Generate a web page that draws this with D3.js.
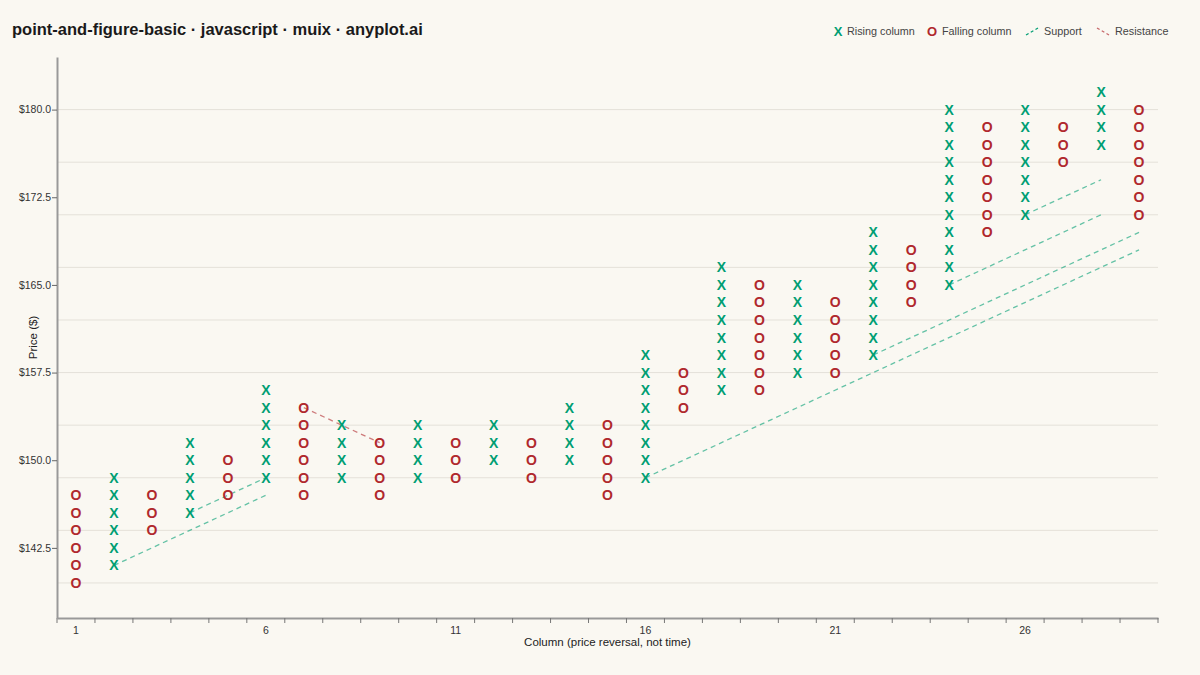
<!DOCTYPE html>
<html>
<head>
<meta charset="utf-8">
<script src="https://cdn.jsdelivr.net/npm/d3@7"></script>
<style>
  html, body { margin: 0; padding: 0; background: #faf8f2; }
  svg { display: block; font-family: "Liberation Sans", Arial, sans-serif; }
</style>
</head>
<body>
<svg id="chart"></svg>
<script>
// point & figure columns: type, lowest box, highest box
const columnType = ["O", "X", "O", "X", "O", "X", "O", "X", "O", "X",
                    "O", "X", "O", "X", "O", "X", "O", "X", "O", "X",
                    "O", "X", "O", "X", "O", "X", "O", "X", "O"];
const columnLow = [139.5, 141, 144, 145.5, 147, 148.5, 147, 148.5, 147, 148.5,
                   148.5, 150, 148.5, 150, 147, 148.5, 154.5, 156, 156, 157.5,
                   157.5, 159, 163.5, 165, 169.5, 171, 175.5, 177, 171];
const columnHigh = [147, 148.5, 147, 151.5, 150, 156, 154.5, 153, 151.5, 153,
                    151.5, 153, 151.5, 154.5, 153, 159, 157.5, 166.5, 165, 165,
                    163.5, 169.5, 168, 180, 178.5, 180, 178.5, 181.5, 180];
const boxSize = 1.5;

// trend lines: [start column, start price, end column, end price]
const supportLines = [
  [2, 141, 6, 147],
  [4, 145.5, 6, 148.5],
  [16, 148.5, 29, 168],
  [22, 159, 29, 169.5],
  [24, 165, 28, 171],
  [26, 171, 28, 174]
];
const resistanceLines = [
  [7, 154.5, 9, 151.5]
];

const yDomain = [136.5, 184.5];
const yTickValues = [142.5, 150, 157.5, 165, 172.5, 180];
const gridValues = [139.5, 144, 148.5, 153, 157.5, 162, 166.5, 171, 175.5, 180];
const xLabelColumns = [1, 6, 11, 16, 21, 26];

const width = 1200, height = 675;
const margin = { top: 57, right: 42, bottom: 57, left: 57 };
const innerWidth = width - margin.left - margin.right;
const innerHeight = height - margin.top - margin.bottom;

const green = "#009e73", red = "#b0282d";

const columns = columnType.map((t, i) => i + 1);
const boxes = [];
columnType.forEach((t, i) => {
  const n = Math.round((columnHigh[i] - columnLow[i]) / boxSize);
  for (let k = 0; k <= n; k++) {
    boxes.push({ col: i + 1, type: t, price: columnLow[i] + k * boxSize });
  }
});

const svg = d3.select("#chart").attr("width", width).attr("height", height);

svg.append("text")
  .attr("x", 12).attr("y", 35)
  .attr("font-size", 16.5).attr("font-weight", "bold").attr("fill", "#1a1a1a")
  .text("point-and-figure-basic · javascript · muix · anyplot.ai");

const chart = svg.append("g").attr("transform", `translate(${margin.left},${margin.top})`);

const xScale = d3.scaleBand().domain(columns).range([0, innerWidth]);
const yScale = d3.scaleLinear().domain(yDomain).range([innerHeight, 0]);
const xc = (c) => xScale(c) + xScale.bandwidth() / 2;

// grid
chart.selectAll(".grid")
  .data(gridValues)
  .join("line")
  .classed("grid", true)
  .attr("x1", 0).attr("x2", innerWidth)
  .attr("y1", (d) => yScale(d)).attr("y2", (d) => yScale(d))
  .attr("stroke", "#e4e1d9").attr("stroke-width", 1);

// axes
const xAxis = d3.axisBottom(xScale)
  .tickValues(xLabelColumns)
  .tickSizeOuter(0).tickSize(0);
const gx = chart.append("g")
  .attr("transform", `translate(0,${innerHeight})`)
  .call(xAxis);
gx.select(".domain").attr("stroke", "#999").attr("stroke-width", 2);
gx.selectAll(".tick text").attr("font-size", 10.5).attr("fill", "#333").attr("dy", "1.25em");
// band-edge tick marks
gx.selectAll(".edge")
  .data(columns.concat([columns.length + 1]))
  .join("line")
  .classed("edge", true)
  .attr("x1", (d) => (d <= columns.length ? xScale(d) : innerWidth))
  .attr("x2", (d) => (d <= columns.length ? xScale(d) : innerWidth))
  .attr("y1", 0).attr("y2", 5)
  .attr("stroke", "#777").attr("stroke-width", 1);

const yAxis = d3.axisLeft(yScale)
  .tickValues(yTickValues).tickSize(5).tickSizeOuter(0).tickPadding(1)
  .tickFormat((d) => "$" + d.toFixed(1));
const gy = chart.append("g").call(yAxis);
gy.select(".domain").attr("stroke", "#999").attr("stroke-width", 2);
gy.selectAll(".tick line").attr("stroke", "#666");
gy.selectAll(".tick text").attr("font-size", 10.5).attr("fill", "#333");

chart.append("text")
  .attr("transform", `translate(${-24},${innerHeight / 2}) rotate(-90)`)
  .attr("dy", "0.35em")
  .attr("text-anchor", "middle")
  .attr("font-size", 11.5).attr("fill", "#222")
  .text("Price ($)");

chart.append("text")
  .attr("x", innerWidth / 2).attr("y", innerHeight + 28)
  .attr("text-anchor", "middle")
  .attr("font-size", 11.5).attr("fill", "#222")
  .text("Column (price reversal, not time)");

// trend lines
const drawLines = (data, color) => {
  chart.append("g").selectAll("line")
    .data(data)
    .join("line")
    .attr("x1", (d) => xc(d[0])).attr("y1", (d) => yScale(d[1]))
    .attr("x2", (d) => xc(d[2])).attr("y2", (d) => yScale(d[3]))
    .attr("stroke", color).attr("stroke-opacity", 0.6)
    .attr("stroke-width", 1.3).attr("stroke-dasharray", "5,4");
};
drawLines(supportLines, green);
drawLines(resistanceLines, red);

// boxes
chart.append("g").selectAll("text")
  .data(boxes)
  .join("text")
  .attr("x", (d) => xc(d.col))
  .attr("y", (d) => yScale(d.price))
  .attr("dy", "0.36em")
  .attr("text-anchor", "middle")
  .attr("font-size", 14).attr("font-weight", "bold")
  .attr("fill", (d) => (d.type === "X" ? green : red))
  .text((d) => d.type);

// legend
const legend = svg.append("g").attr("font-size", 10.8).attr("fill", "#444");
legend.append("text").attr("x", 838).attr("y", 31).attr("dy", "0.35em")
  .attr("text-anchor", "middle").attr("font-weight", "bold").attr("font-size", 13)
  .attr("fill", green).text("X");
legend.append("text").attr("x", 847).attr("y", 31).attr("dy", "0.35em").text("Rising column");
legend.append("text").attr("x", 932).attr("y", 31).attr("dy", "0.35em")
  .attr("text-anchor", "middle").attr("font-weight", "bold").attr("font-size", 13)
  .attr("fill", red).text("O");
legend.append("text").attr("x", 942).attr("y", 31).attr("dy", "0.35em").text("Falling column");
legend.append("line").attr("x1", 1026).attr("y1", 35).attr("x2", 1038).attr("y2", 28)
  .attr("stroke", green).attr("stroke-width", 1.3).attr("stroke-dasharray", "3,2.5");
legend.append("text").attr("x", 1044).attr("y", 31).attr("dy", "0.35em").text("Support");
legend.append("line").attr("x1", 1097).attr("y1", 28).attr("x2", 1109).attr("y2", 35)
  .attr("stroke", red).attr("stroke-opacity", 0.7).attr("stroke-width", 1.3).attr("stroke-dasharray", "3,2.5");
legend.append("text").attr("x", 1115).attr("y", 31).attr("dy", "0.35em").text("Resistance");
</script>
</body>
</html>
